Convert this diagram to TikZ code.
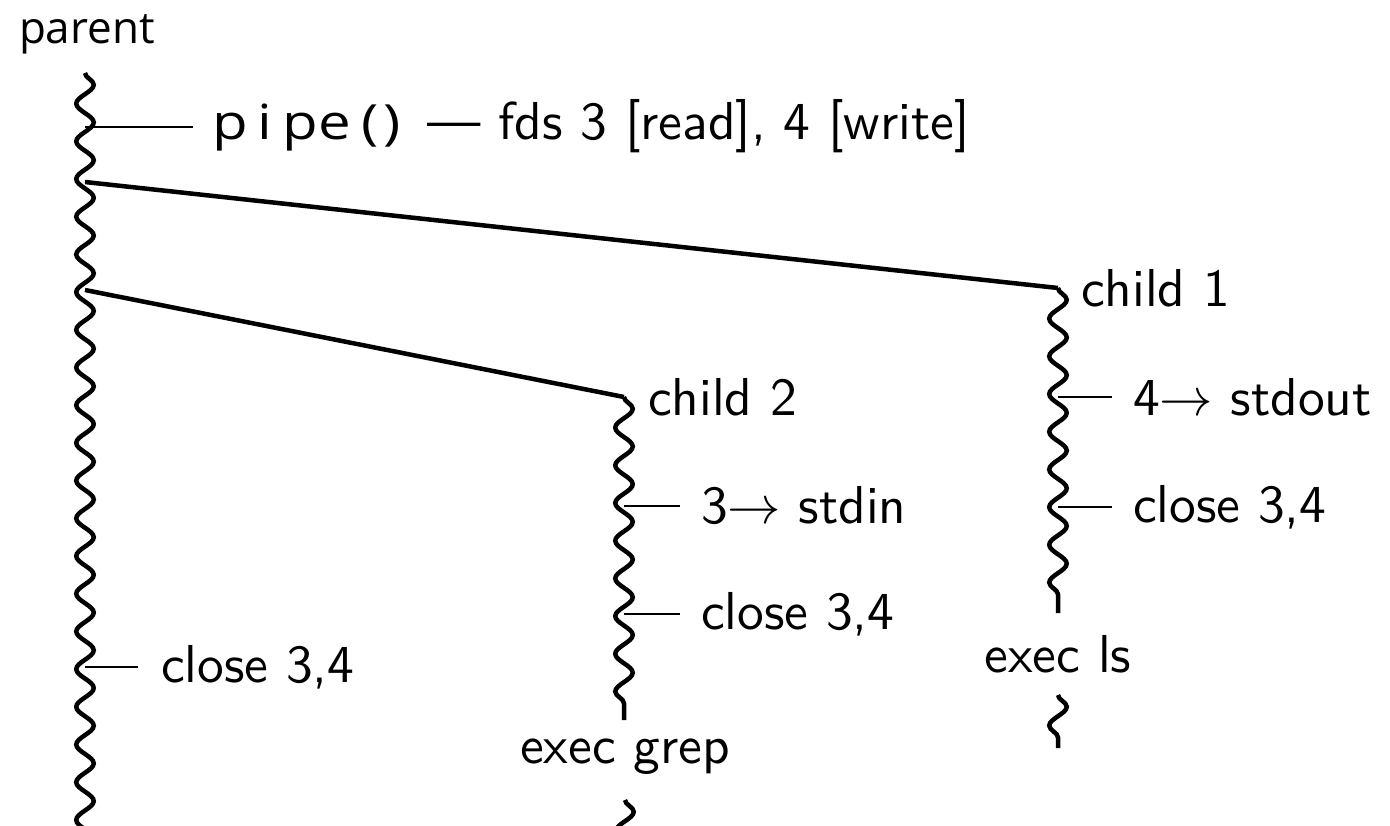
\RequirePackage{fix-cm}
\documentclass[tikz,border=0pt]{standalone}
\usepackage{fontspec}
\newfontfamily\parentfont{Open Sans}
\newfontfamily\pipefont[FakeStretch=1.2]{Open Sans}
\newcommand{\pcell}[1]{\makebox[7pt][c]{#1}}
\usetikzlibrary{decorations.pathmorphing}
\begin{document}
\begin{tikzpicture}[x=0.2pt,y=-0.2pt,
  proc/.style={line width=0.9pt, decorate, decoration={snake, amplitude=1.75pt, segment length=7.54pt}},
  fork/.style={line width=0.9pt},
  side/.style={line width=0.4pt},
  lbl/.style={font=\sffamily\fontsize{10.68}{12.8}\selectfont, inner sep=0pt, anchor=west},
  ]
\useasboundingbox (0,0) rectangle (1390,826);
\clip (0,0) rectangle (1390,826);

% parent
\node[font=\parentfont\fontsize{8.8}{10.5}\selectfont, inner sep=0pt, anchor=base west] (parent) at (18,43) {parent};
\coordinate (pTop) at (85,73);
\coordinate (pBot) at (85,870);
\draw[proc] (pTop) -- (pBot);

% pipe
\coordinate (pPipe) at (85,127);
\coordinate (pPipeEnd) at (193,127);
\node[lbl, anchor=base west] (pipe) at (211.5,139) {{\pipefont\fontsize{9.7}{12}\selectfont\pcell{p}\pcell{i}\pcell{p}\pcell{e}\pcell{(}\kern-2.6pt\pcell{)}} --- fds 3 [read], 4 [write]};
\draw[side] (pPipe) -- (pPipeEnd);

% forks
\coordinate (pF1) at (85,182);
\coordinate (c1Top) at (1058,288);
\coordinate (pF2) at (85,290);
\coordinate (c2Top) at (624,397);
\draw[fork] (pF1) -- (c1Top);
\draw[fork] (pF2) -- (c2Top);

% parent close
\coordinate (pC) at (85,667);
\node[lbl] (pCT) at (160,667) {close 3,4};
\draw[side] (pC) -- ([xshift=-4.4pt]pCT.west);

% child 1
\coordinate (c1End) at (1058,613);
\draw[proc] (c1Top) -- (c1End);
\node[lbl] (c1lab) at (1080,288) {child 1};
\coordinate (c1a) at (1058,397);
\node[lbl] (c1aT) at (1132,397) {4$\rightarrow$ stdout};
\draw[side] (c1a) -- ([xshift=-4pt]c1aT.west);
\coordinate (c1b) at (1058,507);
\node[lbl] (c1bT) at (1132,507) {close 3,4};
\draw[side] (c1b) -- ([xshift=-4pt]c1bT.west);
\node[lbl, anchor=center] (c1exec) at (1058,654) {exec ls};
\coordinate (c1sTop) at (1058,695);
\coordinate (c1sEnd) at (1058,748);
\draw[proc] (c1sTop) -- (c1sEnd);

% child 2
\coordinate (c2End) at (624,720);
\draw[proc] (c2Top) -- (c2End);
\node[lbl] (c2lab) at (647,397) {child 2};
\coordinate (c2a) at (624,506);
\node[lbl] (c2aT) at (700,506) {3$\rightarrow$ stdin};
\draw[side] (c2a) -- ([xshift=-4pt]c2aT.west);
\coordinate (c2b) at (624,614);
\node[lbl] (c2bT) at (700,614) {close 3,4};
\draw[side] (c2b) -- ([xshift=-4pt]c2bT.west);
\node[lbl, anchor=center] (c2exec) at (625,757) {exec grep};
\coordinate (c2sTop) at (625,800);
\coordinate (c2sEnd) at (625,853);
\draw[proc] (c2sTop) -- (c2sEnd);
\end{tikzpicture}
\end{document}
